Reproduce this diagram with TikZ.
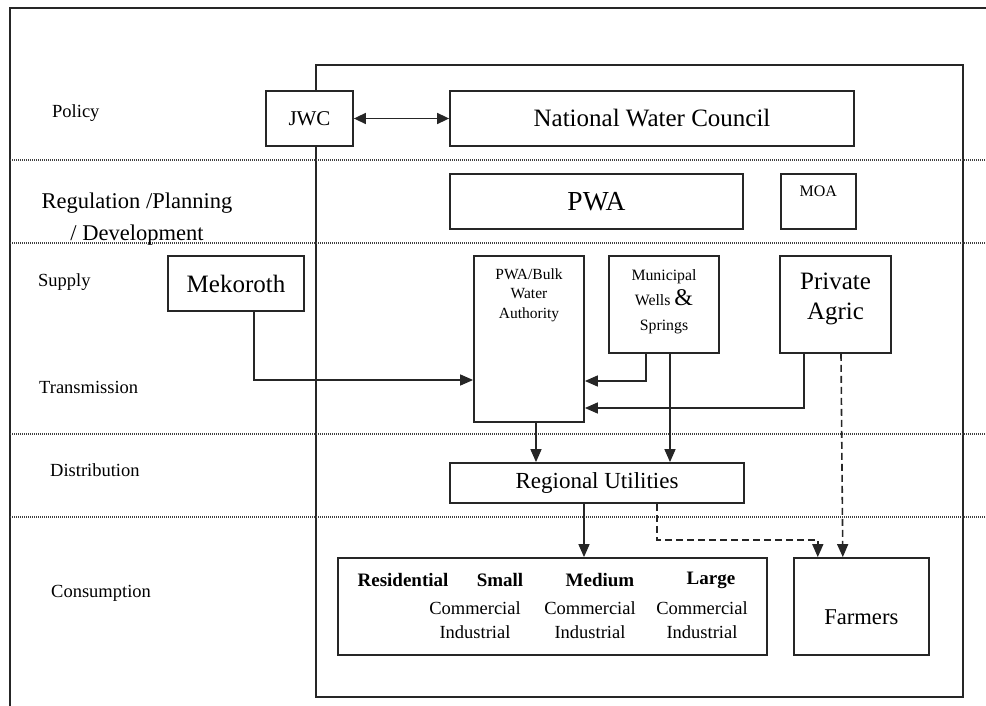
\documentclass[tikz,border=0pt]{standalone}
\usepackage{fontspec}
\setmainfont{Liberation Serif}
\usetikzlibrary{arrows.meta,positioning}

\begin{document}
\begin{tikzpicture}[x=1pt,y=-1pt]
   \tikzset{box node/.style={rectangle, draw=black!85, line width=1.8pt,
   		fill=white, inner sep=0pt, text centered}, }
   \tikzset{layer node/.style={anchor=west, inner sep=0pt,
   		font=\fontsize{18.5}{22}\selectfont}, }
   \tikzset{top label/.style={anchor=north, inner sep=0pt, align=center}, }
   \tikzset{cons head/.style={inner sep=0pt, font=\fontsize{19}{23}\selectfont\bfseries}, }
   \tikzset{cons sub/.style={inner sep=0pt, align=center,
   		font=\fontsize{18.5}{24}\selectfont}, }
   \tikzset{linea/.style={arrows={-Triangle[length=13pt,width=11pt]}, line width=1.6pt, draw=black!85},}
   \tikzset{linea both/.style={arrows={Triangle[length=12pt,width=11pt]-Triangle[length=12pt,width=11pt]},
   		line width=1.6pt, draw=black!85},}
   \tikzset{linea dashed/.style={linea, dash pattern=on 7pt off 4pt},}
   \tikzset{sep line/.style={line width=1.1pt, dash pattern=on 1pt off 1pt, black!75},}

\useasboundingbox (0,0) rectangle (986,706);
% frames and layer lines
\draw[line width=2.2pt, black!85] (10,706) -- (10,8) -- (986,8);
\draw[line width=1.8pt, black!85] (316,65) rectangle (963,697);
\foreach \y in {160,243,434,517}
\draw[sep line] (10,\y) -- (986,\y);

% layers
\node[layer node] (policy) at (52,113) {Policy};
\node[layer node, anchor=center, align=center, font=\fontsize{22.5}{32}\selectfont]
   (regulation) at (137,219) {Regulation /Planning\\/ Development};
\node[layer node] (supply) at (38,282) {Supply};
\node[layer node] (transmission) at (39,387) {Transmission};
\node[layer node] (distribution) at (50,470) {Distribution};
\node[layer node] (consumption) at (51,593) {Consumption};

% boxes
\node[box node, minimum width=87pt, minimum height=55pt, font=\fontsize{21}{24}\selectfont]
   (jwc) at (309.5,118.5) {JWC};
\node[box node, minimum width=404pt, minimum height=55pt, font=\fontsize{25}{30}\selectfont]
   (nwc) at (652,118.5) {National Water Council};
\node[box node, minimum width=293pt, minimum height=55pt, font=\fontsize{27.5}{30}\selectfont]
   (pwa) at (596.5,201.5) {PWA};
\node[box node, minimum width=75pt, minimum height=55pt, right=36pt of pwa,
   label={[top label, yshift=-13pt, font=\fontsize{16}{19}\selectfont]north:MOA}] (moa) {};
\node[box node, minimum width=136pt, minimum height=55pt, font=\fontsize{25}{30}\selectfont]
   (mekoroth) at (236,283.5) {Mekoroth};
\node[box node, minimum width=110pt, minimum height=166pt,
   label={[top label, yshift=-13pt, font=\fontsize{15.5}{19.5}\selectfont]north:PWA/Bulk\\Water\\Authority}]
   (bulk) at (529,339) {};
\node[box node, minimum width=110pt, minimum height=97pt,
   label={[top label, yshift=-14pt, font=\fontsize{15.8}{25}\selectfont]north:Municipal\\Wells {\fontsize{24}{25}\selectfont\&}\\Springs}]
   (wells) at (664,304.5) {};
\node[box node, minimum width=111pt, minimum height=97pt,
   label={[top label, yshift=-18pt, font=\fontsize{25}{30}\selectfont]north:Private\\Agric}]
   (agric) at (835.5,304.5) {};
\node[box node, minimum width=294pt, minimum height=40pt, font=\fontsize{23}{27}\selectfont]
   (utilities) at (597,483) {Regional Utilities};
\node[box node, minimum width=429pt, minimum height=97pt] (consumers) at (552.5,606.5) {};
\node[box node, minimum width=135pt, minimum height=97pt, right=25pt of consumers,
   label={[yshift=-10.5pt, inner sep=0pt, font=\fontsize{22.6}{27}\selectfont]center:Farmers}] (farmers) {};

% consumer classes
\node[cons head] (residential) at (403,580) {Residential};
\node[cons head] (small) at (500,580) {Small};
\node[cons head] (medium) at (600,580) {Medium};
\node[cons head] (large) at (711,580) {Large};
\node[cons sub] (small sub) at (475,620) {Commercial\\Industrial};
\node[cons sub] (medium sub) at (590,620) {Commercial\\Industrial};
\node[cons sub] (large sub) at (702,620) {Commercial\\Industrial};

% flows
\draw[linea both] (jwc) -- (nwc);
\draw[linea] ([xshift=18pt]mekoroth.south) |- ([yshift=-41pt]bulk.west);
\draw[linea] ([xshift=-18pt]wells.south) |- ([yshift=-42pt]bulk.east);
\draw[linea] ([xshift=-31.5pt]agric.south) |- ([yshift=-69pt]bulk.east);
\draw[linea] ([xshift=7pt]bulk.south) -- ([xshift=7pt]bulk.south |- utilities.north);
\draw[linea] ([xshift=6pt]wells.south) -- ([xshift=6pt]wells.south |- utilities.north);
\draw[linea] ([xshift=-13pt]utilities.south) -- ([xshift=-13pt]utilities.south |- consumers.north);
\draw[linea dashed] ([xshift=60pt]utilities.south) -- ++(0,36) -| ([xshift=-43.5pt]farmers.north);
\draw[linea dashed] ([xshift=5.5pt]agric.south) -- ([xshift=-18.5pt]farmers.north);
%
\end{tikzpicture}
\end{document}
